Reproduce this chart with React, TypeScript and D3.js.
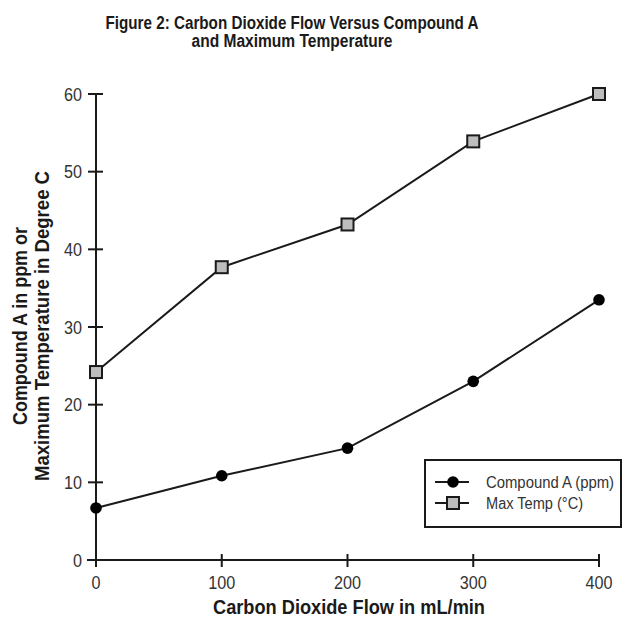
import React from "react";
import * as d3 from "d3";

const flows = [0, 100, 200, 300, 400];
const compoundA = [6.7, 10.85, 14.4, 23.0, 33.5];
const maxTemp = [24.2, 37.7, 43.2, 53.9, 60.0];
const xTicks = [0, 100, 200, 300, 400];
const yTicks = [0, 10, 20, 30, 40, 50, 60];
const titleLines = ["Figure 2: Carbon Dioxide Flow Versus Compound A", "and Maximum Temperature"];
const yLabelLines = ["Compound A in ppm or", "Maximum Temperature in Degree C"];
const xLabel = "Carbon Dioxide Flow in mL/min";
const legendItems = ["Compound A (ppm)", "Max Temp (°C)"];

const FONT = "'Liberation Sans Narrow', 'Arial Narrow', 'Liberation Sans', sans-serif";
const INK = "#1a1a1a";
const FIT = "spacingAndGlyphs";

export default function App() {
  const W = 623, H = 619;
  const x = d3.scaleLinear().domain([0, 400]).range([96, 599]);
  const y = d3.scaleLinear().domain([0, 60]).range([560, 94]);
  const line = d3.line<number>().x((_, i) => x(flows[i])).y(d => y(d));

  const titleLens = [373, 201];
  const yLabLens = [198, 310];
  const legLens = [128, 97];

  return (
    <svg width={W} height={H} style={{ position: "absolute", left: 0, top: 0, background: "#fff" }} fontFamily={FONT}>
      <rect width={W} height={H} fill="#fff" />
      {titleLines.map((t, i) => (
        <text key={i} x={292} y={28.5 + i * 18.5} textAnchor="middle" fontWeight="bold" fontSize={18} fill={INK}
          textLength={titleLens[i]} lengthAdjust={FIT}>{t}</text>
      ))}
      {/* axes */}
      <line x1={x(0)} x2={x(0)} y1={y(0) + 7} y2={y(60)} stroke={INK} strokeWidth={2} />
      <line x1={x(0) - 9} x2={x(400)} y1={y(0)} y2={y(0)} stroke={INK} strokeWidth={2} />
      {yTicks.map(t => (
        <g key={"y" + t}>
          <line x1={x(0) - 8} x2={x(0) + 7} y1={y(t)} y2={y(t)} stroke={INK} strokeWidth={2} />
          <text x={82} y={y(t) + 6.5} textAnchor="end" fontSize={18} fill="#333"
            textLength={String(t).length * 9} lengthAdjust={FIT}>{t}</text>
        </g>
      ))}
      {xTicks.map(t => (
        <g key={"x" + t}>
          <line x1={x(t)} x2={x(t)} y1={y(0) - 6} y2={y(0) + 7} stroke={INK} strokeWidth={2} />
          <text x={x(t)} y={589} textAnchor="middle" fontSize={18} fill="#333"
            textLength={String(t).length * 9} lengthAdjust={FIT}>{t}</text>
        </g>
      ))}
      <text x={349} y={614} textAnchor="middle" fontWeight="bold" fontSize={20} fill={INK}
        textLength={272} lengthAdjust={FIT}>{xLabel}</text>
      {yLabelLines.map((t, i) => (
        <text key={i} transform={`translate(${27 + i * 22},326) rotate(-90)`} textAnchor="middle" fontWeight="bold" fontSize={20} fill={INK}
          textLength={yLabLens[i]} lengthAdjust={FIT}>{t}</text>
      ))}
      {/* series */}
      <path d={line(maxTemp) || ""} fill="none" stroke={INK} strokeWidth={2} />
      <path d={line(compoundA) || ""} fill="none" stroke={INK} strokeWidth={2} />
      {compoundA.map((v, i) => (
        <circle key={"c" + i} cx={x(flows[i])} cy={y(v)} r={5.8} fill="#000" />
      ))}
      {maxTemp.map((v, i) => (
        <rect key={"s" + i} x={x(flows[i]) - 6} y={y(v) - 6} width={12} height={12} fill="#bdbdbd" stroke={INK} strokeWidth={2} />
      ))}
      {/* legend */}
      <rect x={425} y={460} width={196} height={67} fill="#fff" stroke={INK} strokeWidth={2} />
      {legendItems.map((t, i) => {
        const ly = 482 + i * 21;
        return (
          <g key={"l" + i}>
            <line x1={435} x2={469} y1={ly} y2={ly} stroke={INK} strokeWidth={2} />
            {i === 0 ? (
              <circle cx={453} cy={ly} r={5.8} fill="#000" />
            ) : (
              <rect x={447} y={ly - 6} width={12} height={12} fill="#bdbdbd" stroke={INK} strokeWidth={2} />
            )}
            <text x={486} y={ly + 6} fontSize={16} fill="#333"
              textLength={legLens[i]} lengthAdjust={FIT}>{t}</text>
          </g>
        );
      })}
    </svg>
  );
}
